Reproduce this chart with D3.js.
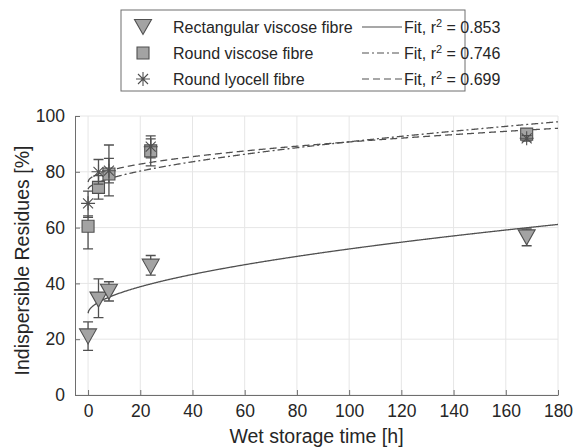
<!DOCTYPE html>
<html>
<head>
<meta charset="utf-8">
<script src="https://cdn.jsdelivr.net/npm/d3@7"></script>
<style>
  html, body { margin: 0; padding: 0; background: #fff; }
  svg { display: block; font-family: "Liberation Sans", Arial, sans-serif; }
</style>
</head>
<body>
<svg id="chart" width="583" height="448"></svg>
<script>
// Sampling times [h]
const times = [0, 4, 8, 24, 168];

// Rectangular viscose fibre: mean and error-bar limits [%]
const rectMean = [21, 34.2, 37, 46, 56.5];
const rectLow  = [16, 27.7, 33.7, 43, 53.5];
const rectHigh = [26.2, 41.6, 40.6, 50, 59.5];

// Round viscose fibre
const roundMean = [60.5, 74.4, 79.2, 87.5, 93.5];
const roundLow  = [52.4, 70.2, 71.4, 82.1, 92];
const roundHigh = [64.2, 78.6, 89.6, 91.8, 95];

// Round lyocell fibre
const lyoMean = [68.7, 80, 80.4, 89, 92];
const lyoLow  = [63.7, 75.6, 76, 85, 91];
const lyoHigh = [73.1, 84.4, 84.8, 92.9, 93];

// Fit curves y = a + b * t^c  ([a, b, c])
const fitRect  = [29.3, 1.83, 0.55];
const fitRound = [73.8, 1.07, 0.6];
const fitLyo   = [76.35, 1.435, 0.5];

// Legend entries
const seriesNames = ["Rectangular viscose fibre", "Round viscose fibre", "Round lyocell fibre"];
const fitR2 = ["0.853", "0.746", "0.699"];

// Axis ticks
const xTicks = [0, 20, 40, 60, 80, 100, 120, 140, 160, 180];
const yTicks = [0, 20, 40, 60, 80, 100];

const svg = d3.select("#chart");
const plotL = 75, plotR = 558, plotT = 116, plotB = 395;

const x = d3.scaleLinear().domain([-5, 180]).range([plotL, plotR]);
const y = d3.scaleLinear().domain([0, 100]).range([plotB, plotT]);

const lineCol = "#505050";
const edgeCol = "#505050";
const fillCol = "#a3a3a3";
const axisCol = "#6e6e6e";
const textCol = "#262626";

// Grid
const grid = svg.append("g");
grid.selectAll(".gx").data(xTicks).join("line")
  .attr("x1", d => x(d)).attr("x2", d => x(d))
  .attr("y1", plotT).attr("y2", plotB)
  .attr("stroke", "#e6e6e6").attr("stroke-width", 1);
grid.selectAll(".gy").data(yTicks).join("line")
  .attr("x1", plotL).attr("x2", plotR)
  .attr("y1", d => y(d)).attr("y2", d => y(d))
  .attr("stroke", "#e6e6e6").attr("stroke-width", 1);

// Axes
const xAxis = d3.axisBottom(x).tickValues(xTicks).tickSizeInner(-5).tickSizeOuter(0).tickPadding(10);
const yAxis = d3.axisLeft(y).tickValues(yTicks).tickSizeInner(-5).tickSizeOuter(0).tickPadding(10);

const gx = svg.append("g").attr("transform", `translate(0,${plotB})`).call(xAxis);
const gy = svg.append("g").attr("transform", `translate(${plotL},0)`).call(yAxis);
[gx, gy].forEach(g => {
  g.select(".domain").attr("stroke", axisCol).attr("stroke-width", 1);
  g.selectAll(".tick line").attr("stroke", axisCol);
  g.selectAll(".tick text").attr("fill", textCol).style("font-size", "17.5px")
    .style("font-family", "'Liberation Sans', Arial, sans-serif");
});

// Axis titles
svg.append("text")
  .attr("x", (plotL + plotR) / 2).attr("y", 443)
  .attr("text-anchor", "middle").attr("fill", textCol)
  .style("font-size", "19.5px").text("Wet storage time [h]");
svg.append("text")
  .attr("transform", `translate(29,${(plotT + plotB) / 2 + 5}) rotate(-90)`)
  .attr("text-anchor", "middle").attr("fill", textCol)
  .style("font-size", "19.5px").text("Indispersible Residues [%]");

// Fit curves
const tSamples = d3.range(0, 180.01, 0.25);
function fitLine(p) {
  return d3.line()
    .x(t => x(t))
    .y(t => y(p[0] + p[1] * Math.pow(t, p[2])));
}
const fits = [
  { p: fitRect, dash: null },
  { p: fitRound, dash: "7,3,2,3" },
  { p: fitLyo, dash: "7,4" }
];
fits.forEach(f => {
  svg.append("path").datum(tSamples)
    .attr("d", fitLine(f.p))
    .attr("fill", "none").attr("stroke", lineCol).attr("stroke-width", 1.3)
    .attr("stroke-dasharray", f.dash);
});

// Marker shapes
const triPath = "M-8.5,-7.5L8.5,-7.5L0,7.5Z";
const sqPath = "M-6,-6L6,-6L6,6L-6,6Z";
const starPath = "M-7,0L7,0M0,-7L0,7M-5,-5L5,5M-5,5L5,-5";

function drawSeries(means, lows, highs, shape, filled) {
  const g = svg.append("g");
  const rows = times.map((t, i) => ({ t, m: means[i], lo: lows[i], hi: highs[i] }));
  // error bars
  g.selectAll(".eb").data(rows).join("path")
    .attr("d", d => {
      const cx = x(d.t), y1 = y(d.lo), y2 = y(d.hi);
      return `M${cx},${y1}L${cx},${y2}M${cx - 5},${y1}L${cx + 5},${y1}M${cx - 5},${y2}L${cx + 5},${y2}`;
    })
    .attr("fill", "none").attr("stroke", lineCol).attr("stroke-width", 1.3);
  // markers
  g.selectAll(".mk").data(rows).join("path")
    .attr("transform", d => `translate(${x(d.t)},${y(d.m)})`)
    .attr("d", shape)
    .attr("fill", filled ? fillCol : "none")
    .attr("stroke", edgeCol).attr("stroke-width", 1.1);
}
drawSeries(rectMean, rectLow, rectHigh, triPath, true);
drawSeries(roundMean, roundLow, roundHigh, sqPath, true);
drawSeries(lyoMean, lyoLow, lyoHigh, starPath, false);

// Legend
const leg = svg.append("g");
leg.append("rect").attr("x", 121).attr("y", 10).attr("width", 344).attr("height", 81)
  .attr("fill", "#fff").attr("stroke", "#6e6e6e").attr("stroke-width", 1);
const rowY = [27, 53, 79];
const legShapes = [triPath, sqPath, starPath];
const legDash = [null, "7,3,2,3", "7,4"];
seriesNames.forEach((name, i) => {
  leg.append("path")
    .attr("transform", `translate(143,${rowY[i]})`)
    .attr("d", legShapes[i])
    .attr("fill", i < 2 ? fillCol : "none")
    .attr("stroke", edgeCol).attr("stroke-width", 1.1);
  leg.append("text").attr("x", 173).attr("y", rowY[i] + 6)
    .attr("fill", textCol).style("font-size", "16px").text(name);
  leg.append("line")
    .attr("x1", 362).attr("x2", 402).attr("y1", rowY[i]).attr("y2", rowY[i])
    .attr("stroke", lineCol).attr("stroke-width", 1.1)
    .attr("stroke-dasharray", legDash[i]);
  const t = leg.append("text").attr("x", 404).attr("y", rowY[i] + 6)
    .attr("fill", textCol).style("font-size", "16px");
  t.append("tspan").text("Fit, r");
  t.append("tspan").attr("dy", -6).style("font-size", "11px").text("2");
  t.append("tspan").attr("dy", 6).text(" = " + fitR2[i]);
});
</script>
</body>
</html>
